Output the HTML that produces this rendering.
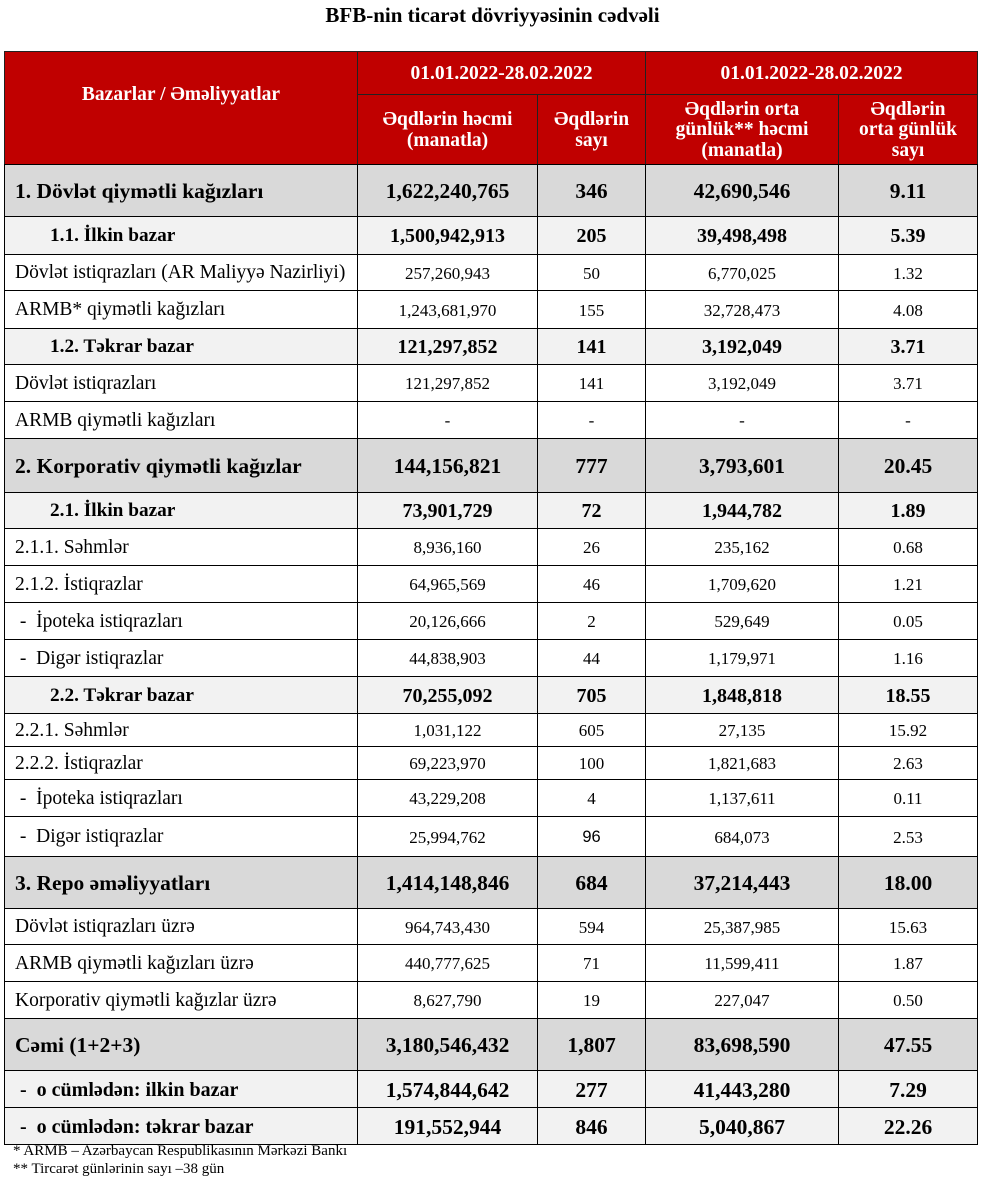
<!DOCTYPE html>
<html><head><meta charset="utf-8">
<style>
html,body{margin:0;padding:0;background:#fff;}
body{width:1000px;height:1193px;position:relative;overflow:hidden;font-family:"Liberation Serif",serif;color:#000;}
#title{position:absolute;left:0;width:985px;top:3px;text-align:center;font-weight:bold;font-size:21px;}
.c{position:absolute;box-sizing:border-box;border:1.5px solid #000;display:flex;align-items:center;justify-content:center;text-align:center;line-height:1.25;white-space:nowrap;padding-top:2px;}
.h{background:#c00000;color:#fff;font-weight:bold;font-size:19.5px;border-color:#222;}
.foot{position:absolute;left:13px;font-size:15px;}
</style></head><body>
<div id="title">BFB-nin ticarət dövriyyəsinin cədvəli</div>
<div id="tbl"></div>
<div class="foot" style="top:1143px">* ARMB – Azərbaycan Respublikasının Mərkəzi Bankı</div>
<div class="foot" style="top:1161px">** Tircarət günlərinin sayı –38 gün</div>
<script>
const colX=[4,357,537,645,838,977];
const rowLabels=["1. Dövlət qiymətli kağızları","1.1. İlkin bazar","Dövlət istiqrazları (AR Maliyyə Nazirliyi)","ARMB* qiymətli kağızları","1.2. Təkrar bazar","Dövlət istiqrazları","ARMB qiymətli kağızları","2. Korporativ qiymətli kağızlar","2.1. İlkin bazar","2.1.1. Səhmlər","2.1.2. İstiqrazlar","&nbsp;-&nbsp; İpoteka istiqrazları","&nbsp;-&nbsp; Digər istiqrazlar","2.2. Təkrar bazar","2.2.1. Səhmlər","2.2.2. İstiqrazlar","&nbsp;-&nbsp; İpoteka istiqrazları","&nbsp;-&nbsp; Digər istiqrazlar","3. Repo əməliyyatları","Dövlət istiqrazları üzrə","ARMB qiymətli kağızları üzrə","Korporativ qiymətli kağızlar üzrə","Cəmi (1+2+3)","&nbsp;-&nbsp; o cümlədən: ilkin bazar","&nbsp;-&nbsp; o cümlədən: təkrar bazar"];
const volume=["1,622,240,765","1,500,942,913","257,260,943","1,243,681,970","121,297,852","121,297,852","-","144,156,821","73,901,729","8,936,160","64,965,569","20,126,666","44,838,903","70,255,092","1,031,122","69,223,970","43,229,208","25,994,762","1,414,148,846","964,743,430","440,777,625","8,627,790","3,180,546,432","1,574,844,642","191,552,944"];
const counts=["346","205","50","155","141","141","-","777","72","26","46","2","44","705","605","100","4","96","684","594","71","19","1,807","277","846"];
const avgVolume=["42,690,546","39,498,498","6,770,025","32,728,473","3,192,049","3,192,049","-","3,793,601","1,944,782","235,162","1,709,620","529,649","1,179,971","1,848,818","27,135","1,821,683","1,137,611","684,073","37,214,443","25,387,985","11,599,411","227,047","83,698,590","41,443,280","5,040,867"];
const avgCount=["9.11","5.39","1.32","4.08","3.71","3.71","-","20.45","1.89","0.68","1.21","0.05","1.16","18.55","15.92","2.63","0.11","2.53","18.00","15.63","1.87","0.50","47.55","7.29","22.26"];
const rowTypes=["big","sub","n","n","sub","n","n","big","sub","n","n","n","n","sub","n","n","n","n","big","n","n","n","big","tot","tot"];
const rowEdges=[164,216,254,290,328,364,401,438,492,528,565,602,639,676,713,746,779,816,856,908,944,981,1018,1070,1107,1144];
const tbl=document.getElementById('tbl');
function cell(x0,x1,y0,y1,html,cls,extra){const d=document.createElement('div');d.className='c '+(cls||'');d.style.left=x0+'px';d.style.top=y0+'px';d.style.width=(x1-x0+1)+'px';d.style.height=(y1-y0+1)+'px';if(extra)Object.assign(d.style,extra);d.innerHTML=html;tbl.appendChild(d);return d;}
let e;
e=cell(colX[0],colX[1],51,164,"Bazarlar / Əməliyyatlar","h",{paddingBottom:'26px',paddingTop:'0'});


e=cell(colX[1],colX[3],51,94,"01.01.2022-28.02.2022","h");


e=cell(colX[3],colX[5],51,94,"01.01.2022-28.02.2022","h");


const subHeads=["Əqdlərin həcmi<br>(manatla)","Əqdlərin<br>sayı","Əqdlərin orta<br>günlük** həcmi<br>(manatla)","Əqdlərin<br>orta günlük<br>sayı"];
for(let i=0;i<4;i++){
 e=cell(colX[i+1],colX[i+2],94,164,subHeads[i],"h",{lineHeight:'1.05'});
 
 
}
for(let r=0;r<rowLabels.length;r++){
 const t=rowTypes[r],y0=rowEdges[r],y1=rowEdges[r+1];
 let bg='#fff',fs='17px',fw='normal',lfs='19.5px',lpad='10px';
 if(t==='big'){bg='#d9d9d9';fs='21.5px';fw='bold';lfs='21.5px';}
 if(t==='sub'){bg='#f2f2f2';fs='20px';fw='bold';lfs='19.3px';lpad='45px';}
 if(t==='tot'){bg='#f2f2f2';fs='21.5px';fw='bold';lfs='20px';}
 const vals=[volume[r],counts[r],avgVolume[r],avgCount[r]];
 e=cell(colX[0],colX[1],y0,y1,rowLabels[r],'',{background:bg,fontSize:lfs,fontWeight:fw,justifyContent:'flex-start',paddingLeft:lpad});
 
 
 for(let c=0;c<4;c++){
  const ex={background:bg,fontSize:fs,fontWeight:fw};
  if(r===17&&c===1){ex.fontFamily='"Liberation Sans",sans-serif';ex.fontSize='16.5px';}
  e=cell(colX[c+1],colX[c+2],y0,y1,vals[c],'',ex);
  
  
 }
}
</script>
</body></html>
